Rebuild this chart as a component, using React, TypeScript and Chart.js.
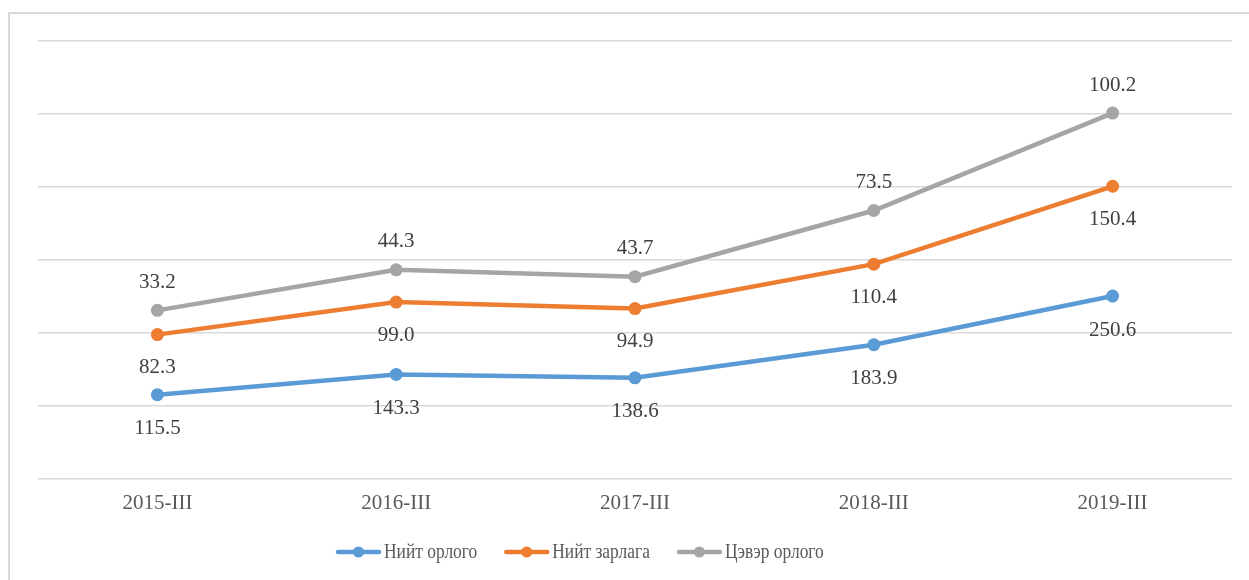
import React, { useEffect, useRef } from "react";
import { Chart, registerables } from "chart.js";

Chart.register(...registerables);

const categories = ["2015-III", "2016-III", "2017-III", "2018-III", "2019-III"];
const totalIncome = [115.5, 143.3, 138.6, 183.9, 250.6];
const totalExpense = [82.3, 99.0, 94.9, 110.4, 150.4];
const netIncome = [33.2, 44.3, 43.7, 73.5, 100.2];
const seriesNames = ["Нийт орлого", "Нийт зарлага", "Цэвэр орлого"];
const seriesColors = ["#5B9BD5", "#ED7D31", "#A5A5A5"];
const labelOffsets = [34, 33, -28];

const FONT = "'Liberation Serif', 'Times New Roman', serif";

const labelPlugin = {
  id: "valueLabels",
  afterDatasetsDraw(chart: any) {
    const ctx = chart.ctx;
    ctx.save();
    ctx.font = `21px ${FONT}`;
    ctx.fillStyle = "#404040";
    ctx.textAlign = "center";
    ctx.textBaseline = "middle";
    chart.data.datasets.forEach((ds: any, i: number) => {
      const meta = chart.getDatasetMeta(i);
      meta.data.forEach((pt: any, j: number) => {
        ctx.fillText(Number(ds.data[j]).toFixed(1), pt.x, pt.y + labelOffsets[i]);
      });
    });
    ctx.restore();
  },
};

const legendPlugin = {
  id: "customLegend",
  afterDraw(chart: any) {
    const ctx = chart.ctx;
    ctx.save();
    ctx.font = `21px ${FONT}`;
    ctx.textBaseline = "middle";
    const y = 552;
    const sx = 0.83;
    const widths = seriesNames.map((n) => ctx.measureText(n).width * sx);
    const sym = 45;
    const gap = 3;
    const spacing = 27;
    let x = 336;
    seriesNames.forEach((n, i) => {
      ctx.strokeStyle = seriesColors[i];
      ctx.lineWidth = 4.5;
      ctx.lineCap = "round";
      ctx.beginPath();
      ctx.moveTo(x + 2, y);
      ctx.lineTo(x + sym - 2, y);
      ctx.stroke();
      ctx.fillStyle = seriesColors[i];
      ctx.beginPath();
      ctx.arc(x + sym / 2, y, 5.5, 0, Math.PI * 2);
      ctx.fill();
      ctx.fillStyle = "#595959";
      ctx.textAlign = "left";
      ctx.save();
      ctx.translate(x + sym + gap, y);
      ctx.scale(sx, 1);
      ctx.fillText(n, 0, 0);
      ctx.restore();
      x += sym + gap + widths[i] + spacing;
    });
    ctx.restore();
  },
};

export default function App() {
  const ref = useRef<HTMLCanvasElement>(null);
  useEffect(() => {
    document.documentElement.style.overflow = "hidden";
    document.body.style.overflow = "hidden";
    const mk = (data: number[], i: number) => ({
      label: seriesNames[i],
      data,
      borderColor: seriesColors[i],
      backgroundColor: seriesColors[i],
      pointBackgroundColor: seriesColors[i],
      pointBorderColor: seriesColors[i],
      borderWidth: 4.5,
      pointRadius: 6.5,
      pointBorderWidth: 0,
      fill: false,
      tension: 0,
    });
    const chart = new Chart(ref.current!, {
      type: "line",
      data: {
        labels: categories,
        datasets: [mk(totalIncome, 0), mk(totalExpense, 1), mk(netIncome, 2)],
      },
      options: {
        animation: false,
        responsive: false,
        layout: { padding: { left: 38, right: 17, top: 41, bottom: 0 } },
        plugins: {
          legend: { display: false },
          tooltip: { enabled: false },
        },
        scales: {
          x: {
            offset: true,
            grid: { display: false, drawTicks: false },
            border: { display: false },
            ticks: {
              color: "#595959",
              font: { family: FONT, size: 21 },
              padding: 12,
            },
            afterFit: (scale: any) => {
              scale.height = 101;
            },
          },
          y: {
            stacked: true,
            min: 0,
            max: 600,
            ticks: { display: false, stepSize: 100 },
            grid: { color: "#d9d9d9", lineWidth: 1.5, drawTicks: false },
            border: { display: false },
            afterFit: (scale: any) => {
              scale.width = 0;
            },
          },
        },
      },
      plugins: [labelPlugin, legendPlugin],
    });
    return () => chart.destroy();
  }, []);
  return (
    <div>
      <div
        style={{
          position: "absolute",
          left: 8,
          top: 12,
          width: 1300,
          height: 700,
          border: "2px solid #d9d9d9",
          boxSizing: "border-box",
        }}
      />
      <canvas
        ref={ref}
        width={1249}
        height={580}
        style={{ position: "absolute", left: 0, top: 0, width: 1249, height: 580 }}
      />
    </div>
  );
}
